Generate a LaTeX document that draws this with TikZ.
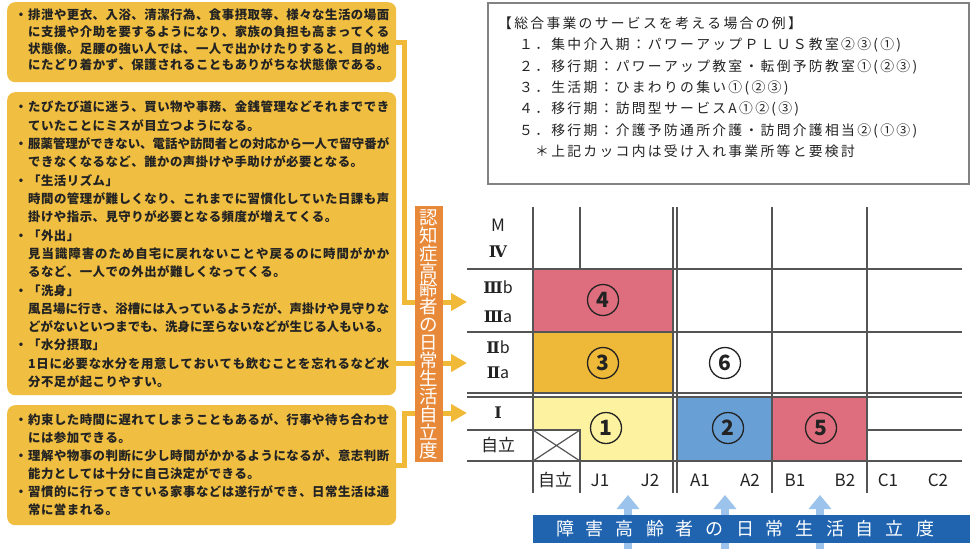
\documentclass[tikz,border=0pt]{standalone}
\usepackage{fontspec}
\newfontfamily\jp{Noto Sans CJK JP}
\newfontfamily\nsans{Noto Sans}
\newfontfamily\dvs{DejaVu Serif}
\usetikzlibrary{arrows.meta}
\definecolor{gold}{RGB}{240,190,65}
\definecolor{goldln}{RGB}{240,185,55}
\definecolor{orng}{RGB}{232,137,58}
\definecolor{pinkc}{RGB}{222,110,125}
\definecolor{ambr}{RGB}{238,184,56}
\definecolor{yelc}{RGB}{252,242,160}
\definecolor{bluc}{RGB}{104,160,214}
\definecolor{barc}{RGB}{32,100,176}
\definecolor{lbl}{RGB}{155,195,235}
\definecolor{gridc}{RGB}{85,85,85}
\definecolor{txt}{RGB}{35,35,35}
\definecolor{boxln}{RGB}{130,130,130}
\newdimen\jtw \jtw=361pt
\newdimen\jcs \jcs=0.5pt
\def\jfx#1{\ifx\relax#1\else\hfil#1\expandafter\jfx\fi}
\def\jfy#1{#1\jfx}
\def\jsx#1{\ifx\relax#1\else\hskip\jcs#1\expandafter\jsx\fi}
\def\jsy#1{#1\jsx}
\def\jvx#1{\ifx\relax#1\else\hbox to22pt{\hss#1\hss}\expandafter\jvx\fi}
\newcommand\JL[1]{\hbox{\hskip14pt\hbox to\jtw{\jfy#1\relax}}}
\newcommand\JB[1]{\hbox{\hbox to14pt{\hss・\hss}\hbox to\jtw{\jfy#1\relax}}}
\newcommand\NL[1]{\hbox{\hskip14pt\jsy#1\relax}}
\newcommand\NB[1]{\hbox{\hbox to14pt{\hss・\hss}\jsy#1\relax}}
\newcommand\Spc[1]{\jsy#1\relax}
\begin{document}
\begin{tikzpicture}[x=1pt,y=-1pt,
  gbox/.style={fill=gold, rounded corners=8pt, inner sep=0pt, anchor=north west},
  gline/.style={draw=goldln, line width=5pt, -{Triangle[length=16pt,width=17pt]}},
  uarr/.style={draw=lbl, line width=8pt, -{Triangle[length=14pt,width=22pt]}},
  grid/.style={draw=gridc, line width=1.2pt},
  num/.style={circle, draw=txt, line width=1.3pt, minimum size=31pt, inner sep=0pt, font=\jp\bfseries\fontsize{21}{21}\selectfont, text=txt},
  lab/.style={font=\jp\fontsize{17}{17}\selectfont, text=txt, inner sep=0pt},
  rom/.style={font=\dvs\bfseries\fontsize{16}{16}\selectfont, text=txt, inner sep=0pt},
  ltxt/.style={anchor=base west, inner sep=0pt, text=txt, font=\jp\bfseries\fontsize{12.4}{16.7}\selectfont}]
\useasboundingbox (0,0) rectangle (970,549);
\fill[white] (0,0) rectangle (970,549);

% left boxes
\node[gbox, minimum width=389pt, minimum height=80pt] (b1) at (7,2) {};
\node[gbox, minimum width=389pt, minimum height=303pt] (b2) at (7,92) {};
\node[gbox, minimum width=389pt, minimum height=120pt] (b3) at (7,405) {};

\node[ltxt] (t1) at (14,19.7) {\vtop{\baselineskip=16.7pt
\JB{排泄や更衣、入浴、清潔行為、食事摂取等、様々な生活の場面}
\JL{に支援や介助を要するようになり、家族の負担も高まってくる}
\JL{状態像。足腰の強い人では、一人で出かけたりすると、目的地}
\JL{にたどり着かず、保護されることもありがちな状態像である。}}};

\node[ltxt] (t2) at (14,111.7) {\vtop{\baselineskip=18.33pt
\JB{たびたび道に迷う、買い物や事務、金銭管理などそれまででき}
\NL{ていたことにミスが目立つようになる。}
\JB{服薬管理ができない、電話や訪問者との対応から一人で留守番が}
\NL{できなくなるなど、誰かの声掛けや手助けが必要となる。}
\NB{「生活リズム」}
\JL{時間の管理が難しくなり、これまでに習慣化していた日課も声}
\NL{掛けや指示、見守りが必要となる頻度が増えてくる。}
\NB{「外出」}
\JL{見当識障害のため自宅に戻れないことや戻るのに時間がかか}
\NL{るなど、一人での外出が難しくなってくる。}
\NB{「洗身」}
\JL{風呂場に行き、浴槽には入っているようだが、声掛けや見守りな}
\JL{どがないといつまでも、洗身に至らないなどが生じる人もいる。}
\NB{「水分摂取」}
\JL{1日に必要な水分を用意しておいても飲むことを忘れるなど水}
\NL{分不足が起こりやすい。}}};

\node[ltxt] (t3) at (14,424.7) {\vtop{\baselineskip=18pt
\JB{約束した時間に遅れてしまうこともあるが、行事や待ち合わせ}
\NL{には参加できる。}
\JB{理解や物事の判断に少し時間がかかるようになるが、意志判断}
\NL{能力としては十分に自己決定ができる。}
\JB{習慣的に行ってきている家事などは遂行ができ、日常生活は通}
\NL{常に営まれる。}}};

% connectors
\coordinate (a4) at (467,302);
\coordinate (a3) at (467,363);
\coordinate (a1) at (467,413);
\draw[gline] (b1.east) -- ++(8,0) |- (a4);
\draw[gline] (b2.east |- a3) -- (a3);
\draw[gline] (b3.east) -- ++(8,0) |- (a1);

% vertical label
\node[fill=orng, minimum width=28pt, minimum height=256pt, inner sep=0pt, text=white,
  font=\jp\fontsize{18.5}{18}\selectfont] (ob) at (429,334)
  {\vbox{\baselineskip=17.9pt\lineskiplimit=-20pt\jvx 認知症高齢者の日常生活自立度\relax}};

% top right box
\node[draw=boxln, line width=1.5pt, minimum width=481pt, minimum height=181pt, anchor=north west, inner sep=0pt] (svc) at (487,2) {};
\node[anchor=base west, inner sep=0pt, text=txt, font=\jp\fontsize{13.8}{21.4}\selectfont] (svct) at (498,28.2)
 {\vtop{\jcs=2.3pt\baselineskip=21.4pt
 \hbox{\Spc{【総合事業のサービスを考える場合の例】}}
 \hbox{\hskip21pt\Spc{１．集中介入期：パワーアップＰＬＵＳ教室②③(①)}}
 \hbox{\hskip21pt\Spc{２．移行期：パワーアップ教室・転倒予防教室①(②③)}}
 \hbox{\hskip21pt\Spc{３．生活期：ひまわりの集い①(②③)}}
 \hbox{\hskip21pt\Spc{４．移行期：訪問型サービスA①②(③)}}
 \hbox{\hskip21pt\Spc{５．移行期：介護予防通所介護・訪問介護相当②(①③)}}
 \hbox{\hskip37pt\Spc{＊上記カッコ内は受け入れ事業所等と要検討}}}};

% grid cells
\fill[pinkc] (533,269) rectangle (673,332);
\fill[ambr] (533,332) rectangle (673,393);
\fill[yelc] (533,397) rectangle (673,461);
\fill[bluc] (677,397) rectangle (772,461);
\fill[pinkc] (772,397) rectangle (867,461);
\draw[grid, fill=white] (533,430) rectangle (580,461);
\draw[grid] (533,430) -- (580,461) (533,461) -- (580,430);

% grid lines
\draw[grid] (533,207) -- (533,493);
\draw[grid] (580,207) -- (580,269) (580,461) -- (580,493);
\draw[grid] (673,207) -- (673,493) (677,207) -- (677,493);
\draw[grid] (772,207) -- (772,493);
\draw[grid] (867,207) -- (867,493);
\draw[grid] (467,269) -- (962,269) (467,332) -- (962,332);
\draw[grid] (467,393) -- (962,393) (467,397) -- (962,397);
\draw[grid] (467,430) -- (533,430) (867,430) -- (962,430);
\draw[grid] (467,461) -- (962,461);

% row labels
\node[lab] (lM) at (498,225) {M};
\node[rom] (l4) at (498,252) {Ⅳ};
\node[rom] (l3b) at (498,287) {Ⅲ\jp\mdseries b};
\node[rom] (l3a) at (498,317) {Ⅲ\jp\mdseries a};
\node[rom] (l2b) at (498,347) {Ⅱ\jp\mdseries b};
\node[rom] (l2a) at (498,373) {Ⅱ\jp\mdseries a};
\node[rom] (l1) at (498,413) {Ⅰ};
\node[lab] (l0) at (498,445) {自立};

% column labels
\node[lab] (c0) at (555,480) {自立};
\node[lab] (cJ1) at (600,480) {J1};
\node[lab] (cJ2) at (650,480) {J2};
\node[lab] (cA1) at (700,480) {A1};
\node[lab] (cA2) at (750,480) {A2};
\node[lab] (cB1) at (795,480) {B1};
\node[lab] (cB2) at (845,480) {B2};
\node[lab] (cC1) at (888,480) {C1};
\node[lab] (cC2) at (938,480) {C2};

% circled numbers
\node[num] (n4) at (603,300) {4};
\node[num] (n3) at (603,363) {3};
\node[num] (n6) at (725,363) {6};
\node[num] (n1) at (606,428) {1};
\node[num] (n2) at (728,428) {2};
\node[num] (n5) at (821,428) {5};

% up arrows and bar
\coordinate (u1s) at (628,549); \coordinate (u1e) at (628,495);
\coordinate (u2s) at (725,549); \coordinate (u2e) at (725,495);
\coordinate (u3s) at (820,549); \coordinate (u3e) at (820,495);
\draw[uarr] (u1s) -- (u1e);
\draw[uarr] (u2s) -- (u2e);
\draw[uarr] (u3s) -- (u3e);
\node[fill=barc, minimum width=437pt, minimum height=28pt, inner sep=0pt, anchor=north west] (bar) at (533,515) {};
\node[text=white, inner sep=0pt, font=\jp\fontsize{18}{18}\selectfont] (bart) at (745,529)
  {\jcs=12pt\Spc{障害高齢者の日常生活自立度}};
\end{tikzpicture}
\end{document}
